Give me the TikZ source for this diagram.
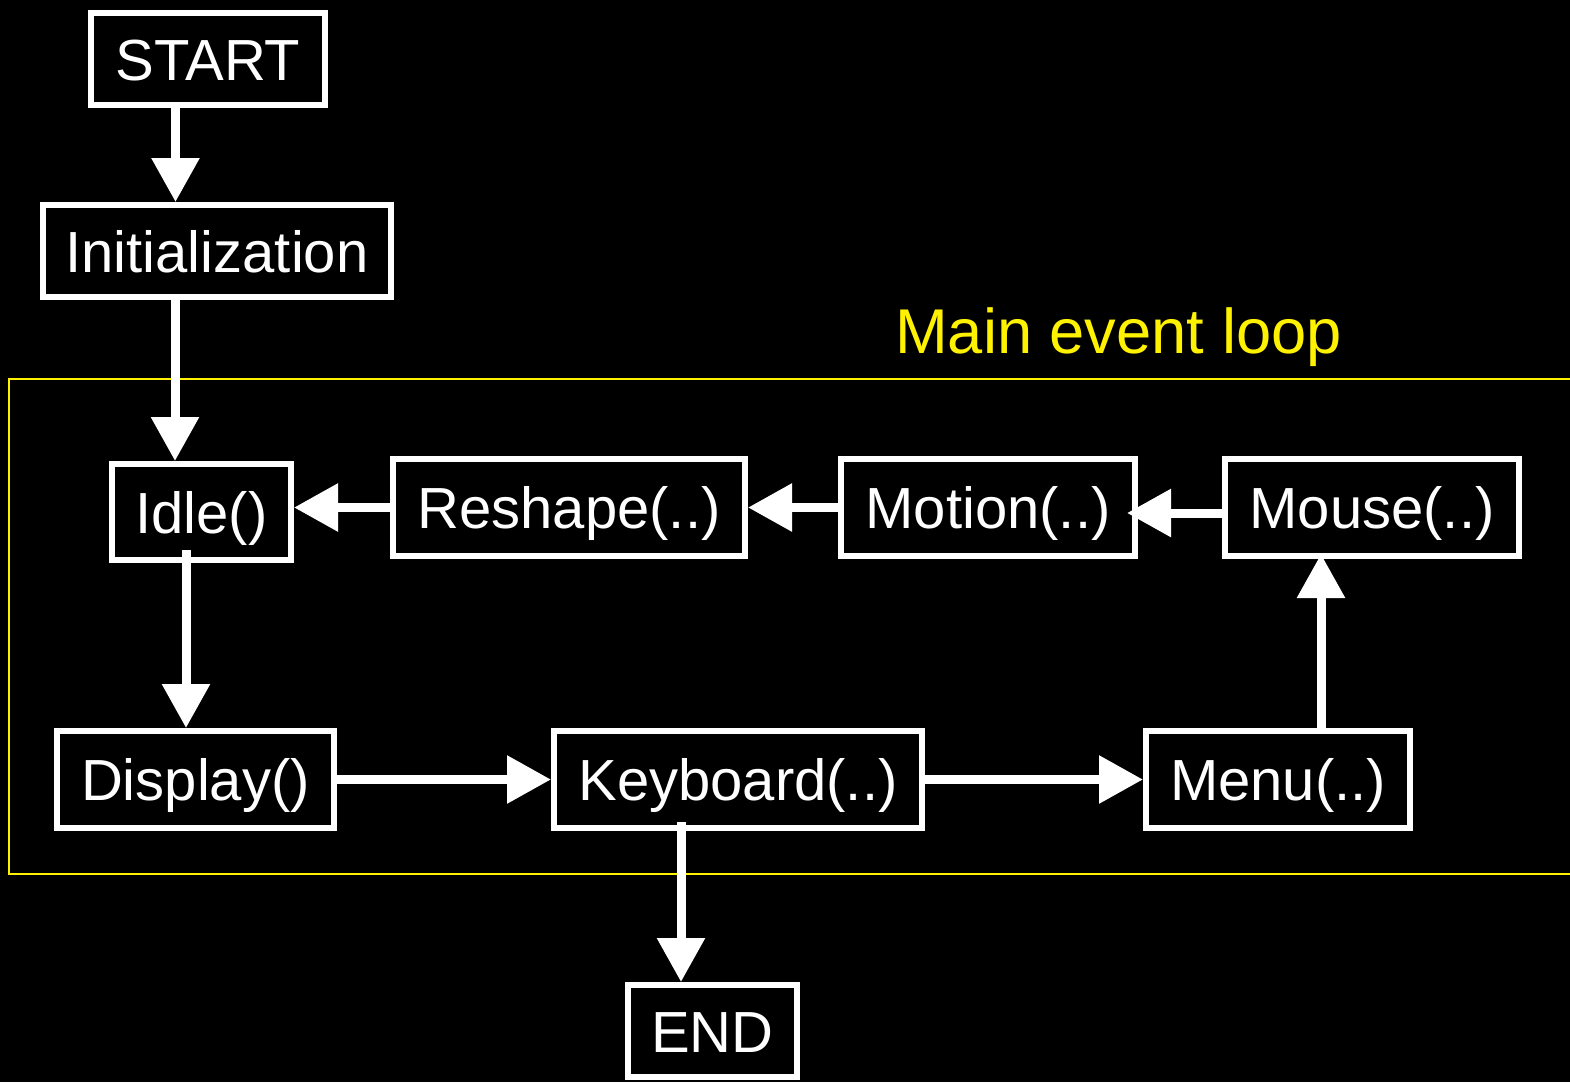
\documentclass[tikz,border=0pt]{standalone}
\usepackage{fontspec}
\setmainfont{Liberation Sans}
\usepackage{tikz}
\usetikzlibrary{arrows.meta,calc}

\begin{document}
\begin{tikzpicture}[
  stepbox/.style={draw=white,line width=0.12cm,fill=black,text=white,inner sep=0pt,
    font=\fontsize{33}{40}\selectfont,text height=0.84cm,text depth=0pt,minimum height=1.94cm},
  flow/.style={white,line width=0.18cm,-{Triangle[width=0.92cm,length=0.88cm]}}
]
\useasboundingbox (0,0) rectangle (31.4,-21.64);
\fill[black] (0,0) rectangle (31.4,-21.64);
\draw[yellow,line width=0.04cm] (31.5,-7.58) -- (0.18,-7.58) -- (0.18,-17.48) -- (31.5,-17.48);
\node[yellow,anchor=base,font=\fontsize{36}{43}\selectfont] (looplabel) at (22.37,-7.06) {Main event loop};

\node[stepbox,minimum width=4.68cm,minimum height=1.84cm] (start) at (4.16,-1.18) {START};
\node[stepbox,minimum width=6.96cm,minimum height=1.84cm] (init) at (4.34,-5.02) {Initialization};
\node[stepbox,minimum width=3.58cm,minimum height=1.92cm] (idle) at (4.03,-10.24) {Idle()};
\node[stepbox,minimum width=7.04cm] (reshape) at (11.38,-10.15) {Reshape(..)};
\node[stepbox,minimum width=5.88cm] (motion) at (19.76,-10.15) {Motion(..)};
\node[stepbox,minimum width=5.88cm] (mouse) at (27.44,-10.15) {Mouse(..)};
\node[stepbox,minimum width=5.54cm] (display) at (3.91,-15.59) {Display()};
\node[stepbox,minimum width=7.36cm] (keyboard) at (14.76,-15.59) {Keyboard(..)};
\node[stepbox,minimum width=5.28cm] (menu) at (25.56,-15.59) {Menu(..)};
\node[stepbox,minimum width=3.38cm,minimum height=1.84cm] (finish) at (14.25,-20.62) {END};

\draw[flow] ([xshift=-0.65cm]start.south) -- ([xshift=-0.65cm]start.south |- init.north);
\draw[flow] ([xshift=-0.84cm]init.south) -- ([xshift=-0.84cm]init.south |- idle.north);
\draw[flow] ([xshift=-0.31cm,yshift=0.26cm]idle.south) -- ([xshift=-0.31cm]idle.south |- display.north);
\draw[flow] (display) -- (keyboard);
\draw[flow] (keyboard) -- (menu);
\draw[flow] ([xshift=0.86cm]menu.north) -- ([xshift=0.86cm,yshift=0.1cm]menu.north |- mouse.south);
\draw[flow] ([yshift=-0.11cm]mouse.west) -- ([xshift=-0.22cm,yshift=-0.11cm]motion.east);
\draw[flow] (motion) -- (reshape);
\draw[flow] (reshape.west) -- (reshape.west -| idle.east);
\draw[flow] ([xshift=-1.14cm,yshift=0.18cm]keyboard.south) -- ([xshift=-1.14cm]keyboard.south |- finish.north);
\end{tikzpicture}
\end{document}
